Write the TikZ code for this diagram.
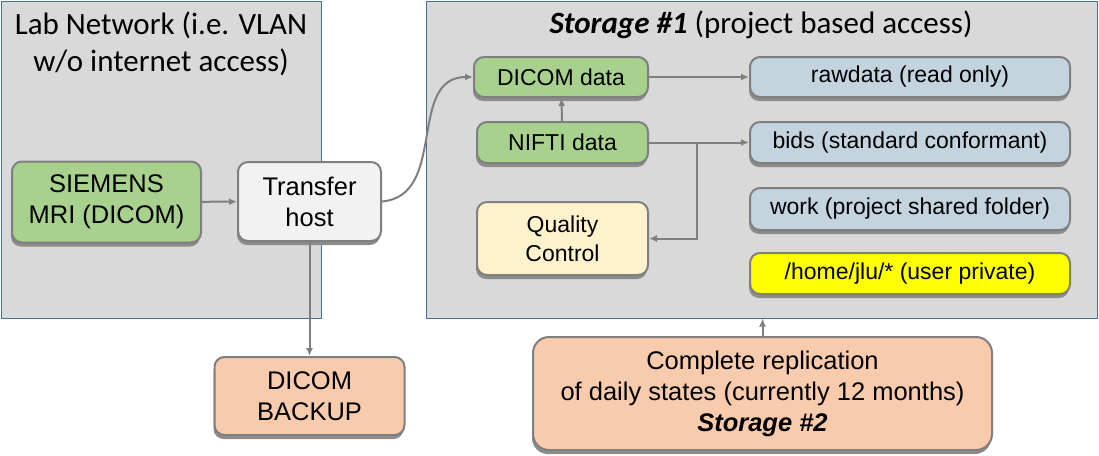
\documentclass[tikz,border=0pt]{standalone}
\usepackage{fontspec}
\setmainfont{Liberation Sans}
\newfontfamily\titlefont{Carlito}
\usetikzlibrary{arrows.meta,shadows}
\definecolor{panelfill}{HTML}{D9D9D9}
\definecolor{panelline}{HTML}{41719C}
\definecolor{boxline}{HTML}{7F7F7F}
\definecolor{greenfill}{HTML}{A9D18E}
\definecolor{hostfill}{HTML}{F2F2F2}
\definecolor{orangefill}{HTML}{F8CBAD}
\definecolor{qcfill}{HTML}{FFF2CC}
\definecolor{bluefill}{HTML}{C3D4DF}
\definecolor{yellowfill}{HTML}{FFFF00}
\tikzset{
  panel/.style={draw=panelline, fill=panelfill, line width=1pt, inner sep=0pt},
  paneltitle/.style={font=\titlefont\fontsize{31}{37}\selectfont, align=center},
  box/.style={draw=boxline, line width=2pt, rounded corners=10pt, align=center,
    inner sep=0pt, font=\fontsize{25.5}{31}\selectfont,
    drop shadow={shadow xshift=-1pt, shadow yshift=-4pt, fill=black!45, opacity=1}},
  small/.style={font=\fontsize{23}{29}\selectfont},
  flow/.style={draw=boxline, line width=2pt, -{Latex[length=8pt,width=7pt]}}
}
\begin{document}
\begin{tikzpicture}[x=1pt, y=-1pt]
  \useasboundingbox (0,0) rectangle (1099,455);

  \node[panel, minimum width=320pt, minimum height=317pt] (lab) at (161,159.5) {};
  \node[panel, minimum width=671pt, minimum height=317pt] (storage) at (761.5,159.5) {};
  \node[paneltitle] (labtitle) at (161,44) {Lab Network (i.e. VLAN\\w/o internet access)};
  \node[paneltitle] (storagetitle) at (761,25) {\textbf{\textit{Storage \#1}} (project based access)};

  \begin{scope}[every node/.style={box}]
    \node[fill=greenfill, minimum width=189pt, minimum height=81pt] (siemens) at (106.5,202) {SIEMENS\\MRI (DICOM)};
    \node[fill=hostfill, minimum width=143pt, minimum height=79pt] (transfer) at (309.5,201.5) {Transfer\\host};
    \node[fill=orangefill, minimum width=190pt, minimum height=78pt] (backup) at (309.5,396) {DICOM\\BACKUP};
    \node[small, fill=greenfill, minimum width=174pt, minimum height=40pt] (dicom) at (561,77) {DICOM data};
    \node[small, fill=greenfill, minimum width=171pt, minimum height=41pt] (nifti) at (562.5,142.5) {NIFTI data};
    \node[small, fill=qcfill, minimum width=171pt, minimum height=73pt] (qc) at (562.5,238.5) {Quality\\Control};
    \node[small, fill=bluefill, minimum width=320pt, minimum height=40pt] (raw) at (910,77) {rawdata (read only)};
    \node[small, fill=bluefill, minimum width=320pt, minimum height=41pt] (bids) at (910,142.5) {bids (standard conformant)};
    \node[small, fill=bluefill, minimum width=320pt, minimum height=42pt] (work) at (910,209) {work (project shared folder)};
    \node[small, fill=yellowfill, minimum width=320pt, minimum height=41pt] (home) at (910,273.5) {/home/jlu/* (user private)};
    \node[fill=orangefill, rounded corners=16pt, minimum width=459pt, minimum height=113pt] (repl) at (762.5,393.5)
      {Complete replication\\of daily states (currently 12 months)\\\textbf{\textit{Storage \#2}}};
  \end{scope}

  \coordinate (junc) at (697,142.5);

  \draw[flow] (siemens) -- (transfer);
  \draw[flow] (transfer.south) -- (backup.north);
  \draw[flow] (transfer.east) to[out=5, in=180, looseness=1.1] (dicom.west);
  \draw[flow] (nifti) -- (dicom);
  \draw[flow] (dicom) -- (raw);
  \draw[flow] (nifti) -- (bids);
  \draw[flow] (junc) |- (qc.east);
  \draw[flow] (repl.north) -- (storage.south -| repl.north);

\end{tikzpicture}
\end{document}
